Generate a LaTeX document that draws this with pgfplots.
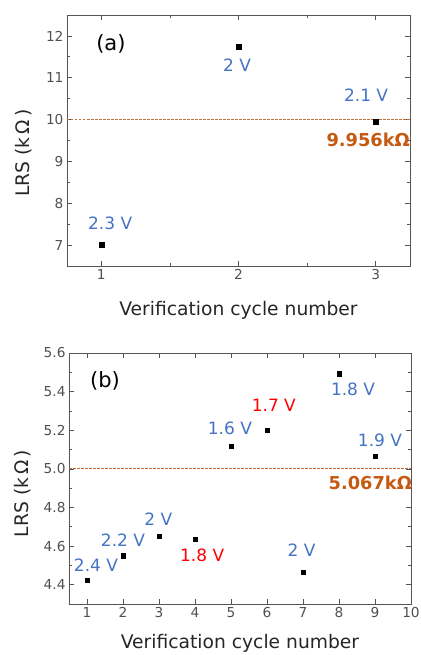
\documentclass[border=0pt]{standalone}
\usepackage{pgfplots}
\pgfplotsset{compat=1.18}
\usepackage{fontspec}
\setmainfont{DejaVu Sans}
\definecolor{vblue}{HTML}{4472C4}
\definecolor{vred}{HTML}{FF0000}
\definecolor{vorange}{HTML}{C55A11}
\definecolor{dline}{HTML}{C0703A}
\definecolor{framec}{HTML}{555555}
\definecolor{ticktxt}{HTML}{505050}
\pgfplotsset{
  panel/.style={
    scale only axis, width=343pt, height=251pt,
    axis line style={framec, line width=0.9pt},
    every tick/.style={framec, line width=0.7pt},
    major tick length=5pt, minor tick length=3pt,
    tick align=inside,
    tick label style={font=\fontsize{13.7}{14}\selectfont, text=ticktxt},
    /pgf/number format/assume math mode=true,
    label style={font=\fontsize{18.7}{20}\selectfont, text=black!85},
    clip=false,
    xlabel style={at={(axis description cs:0.5,-0.175)}, anchor=center},
    ylabel style={at={(axis description cs:-0.125,0.45)}, anchor=center},
    xlabel={Verification cycle number},
    ylabel={LRS (k\,Ω\,)},
  },
}
\tikzset{
  vlab/.style={font=\fontsize{17}{18}\selectfont, anchor=center},
  klab/.style={font=\fontsize{17.8}{18}\selectfont\bfseries, text=vorange, anchor=center},
  plab/.style={font=\fontsize{21}{22}\selectfont, anchor=center},
}
\begin{document}
\begin{tikzpicture}
\path[use as bounding box] (0,0) rectangle (420pt,-655pt);
% Panel (a)
\begin{axis}[panel, at={(67pt,-266pt)}, anchor=south west,
  xmin=0.75, xmax=3.25, ymin=6.5, ymax=12.5,
  xtick={1,2,3}, minor xtick={1.5,2.5},
  ytick={7,8,9,10,11,12}, minor ytick={6.5,7.5,8.5,9.5,10.5,11.5}]
\addplot[dline, line width=1pt, dash pattern=on 2.5pt off 1.5pt] coordinates {(0.75,10) (3.25,10)};
\addplot[only marks, mark=square*, mark size=2.4pt, black] coordinates {
(1,7.0) (2,11.75) (3,9.956)};
\node[plab] at (axis cs:1.07,11.8) {(a)};
\node[vlab, text=vblue] at (axis cs:1.065,7.52) {2.3 V};
\node[vlab, text=vblue] at (axis cs:1.99,11.29) {2 V};
\node[vlab, text=vblue] at (axis cs:2.93,10.58) {2.1 V};
\node[klab] at (axis cs:2.945,9.52) {9.956kΩ};
\end{axis}
% Panel (b)
\begin{axis}[panel, at={(69pt,-604pt)}, anchor=south west, width=342pt,
  xmin=0.5, xmax=10, ymin=4.3, ymax=5.6,
  xtick={1,2,3,4,5,6,7,8,9,10},
  ytick={4.4,4.6,4.8,5.0,5.2,5.4,5.6}, minor ytick={4.3,4.5,4.7,4.9,5.1,5.3,5.5},
  yticklabel style={/pgf/number format/fixed, /pgf/number format/fixed zerofill, /pgf/number format/precision=1},
  xlabel style={at={(axis description cs:0.5,-0.155)}},
  ylabel style={at={(axis description cs:-0.135,0.44)}}]
\addplot[dline, line width=1pt, dash pattern=on 2.5pt off 1.5pt] coordinates {(0.5,5.0) (10,5.0)};
\addplot[only marks, mark=square*, mark size=2.2pt, black] coordinates {
(1,4.424) (2,4.550) (3,4.651) (4,4.637) (5,5.118) (6,5.199) (7,4.464) (8,5.493) (9,5.067)};
\node[plab] at (axis cs:1.5,5.457) {(b)};
\node[vlab, text=vblue] at (axis cs:1.25,4.50) {2.4 V};
\node[vlab, text=vblue] at (axis cs:2.0,4.63) {2.2 V};
\node[vlab, text=vblue] at (axis cs:2.98,4.74) {2 V};
\node[vlab, text=vred] at (axis cs:4.2,4.553) {1.8 V};
\node[vlab, text=vblue] at (axis cs:4.97,5.21) {1.6 V};
\node[vlab, text=vred] at (axis cs:6.19,5.33) {1.7 V};
\node[vlab, text=vblue] at (axis cs:6.96,4.58) {2 V};
\node[vlab, text=vblue] at (axis cs:8.39,5.41) {1.8 V};
\node[vlab, text=vblue] at (axis cs:9.14,5.15) {1.9 V};
\node[klab] at (axis cs:8.87,4.925) {5.067kΩ};
\end{axis}
\end{tikzpicture}
\end{document}
